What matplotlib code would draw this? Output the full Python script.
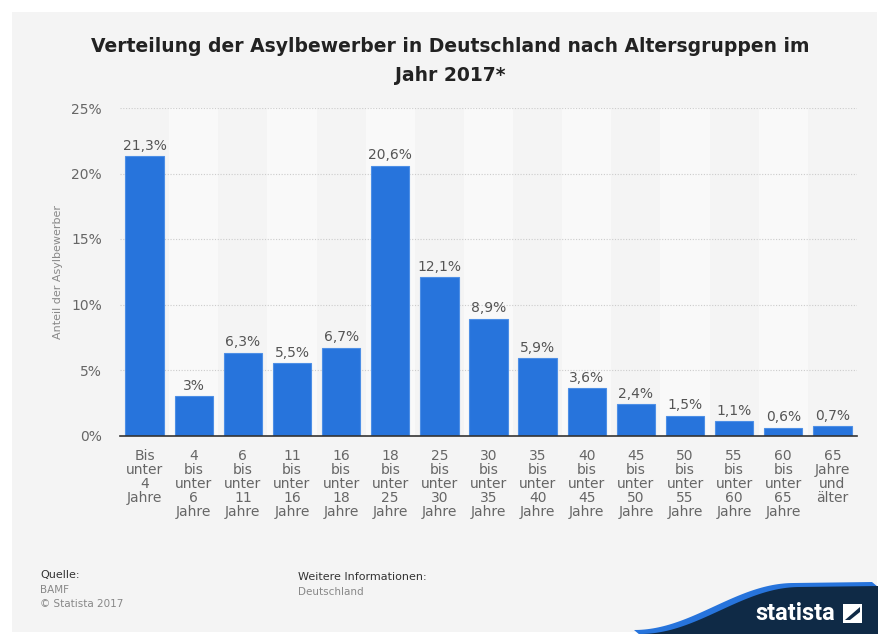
import matplotlib
matplotlib.use("Agg")
import matplotlib.pyplot as plt
import numpy as np
from matplotlib.patches import Rectangle, Polygon

categories = [
    "Bis\nunter\n4\nJahre", "4\nbis\nunter\n6\nJahre", "6\nbis\nunter\n11\nJahre",
    "11\nbis\nunter\n16\nJahre", "16\nbis\nunter\n18\nJahre", "18\nbis\nunter\n25\nJahre",
    "25\nbis\nunter\n30\nJahre", "30\nbis\nunter\n35\nJahre", "35\nbis\nunter\n40\nJahre",
    "40\nbis\nunter\n45\nJahre", "45\nbis\nunter\n50\nJahre", "50\nbis\nunter\n55\nJahre",
    "55\nbis\nunter\n60\nJahre", "60\nbis\nunter\n65\nJahre", "65\nJahre\nund\nälter",
]
values = [21.3, 3.0, 6.3, 5.5, 6.7, 20.6, 12.1, 8.9, 5.9, 3.6, 2.4, 1.5, 1.1, 0.6, 0.7]
value_labels = ["21,3%", "3%", "6,3%", "5,5%", "6,7%", "20,6%", "12,1%", "8,9%", "5,9%",
                "3,6%", "2,4%", "1,5%", "1,1%", "0,6%", "0,7%"]
yticks = [0, 5, 10, 15, 20, 25]
ytick_labels = ["0%", "5%", "10%", "15%", "20%", "25%"]

title = "Verteilung der Asylbewerber in Deutschland nach Altersgruppen im\nJahr 2017*"
ylabel = "Anteil der Asylbewerber"

W, H = 879, 634
fig = plt.figure(figsize=(W / 100, H / 100), dpi=100)
fig.patch.set_facecolor("white")

def fx(px):
    return px / W

def fy(py):
    return 1 - py / H

# gray panel
fig.patches.append(Rectangle((fx(12), fy(632)), fx(877) - fx(12), fy(12) - fy(632),
                             transform=fig.transFigure, facecolor="#f4f4f4",
                             edgecolor="none", zorder=-10))

ax = fig.add_axes([fx(120), fy(435.5), fx(857) - fx(120), fy(108) - fy(435.5)])
ax.set_facecolor("none")
ax.set_zorder(5)

x = np.arange(len(values))
# alternating column shading
for i in x:
    if i % 2 == 1:
        ax.axvspan(i - 0.5, i + 0.5, ymin=0, ymax=1, facecolor="#f9f9f9",
                   edgecolor="none", zorder=0)

ax.bar(x, values, width=0.78, color="#2774dc", edgecolor="#4d8fe6", linewidth=0.8, zorder=3)
for xi, v, lab in zip(x, values, value_labels):
    ax.annotate(lab, (xi, v), xytext=(0, 2.5), textcoords="offset points",
                ha="center", va="bottom", fontsize=10, color="#555555", zorder=4)

ax.set_xlim(-0.5, len(values) - 0.5)
ax.set_ylim(0, 25)
ax.set_yticks(yticks)
ax.set_yticklabels(ytick_labels, fontsize=10, color="#666666")
ax.set_xticks(x)
ax.set_xticklabels(categories, fontsize=10, color="#666666", linespacing=1.0, va="top")
ax.tick_params(axis="both", length=0)
ax.tick_params(axis="y", pad=13)
ax.tick_params(axis="x", pad=10)
for y in yticks[1:]:
    ax.axhline(y, color="#cccccc", linewidth=0.8, linestyle=(0, (1, 1.5)), zorder=1)
for s in ["left", "right", "top"]:
    ax.spines[s].set_visible(False)
ax.spines["bottom"].set_color("#333333")
ax.spines["bottom"].set_linewidth(1.2)
ax.spines["bottom"].set_zorder(5)

fig.text(fx(58), fy(272), ylabel, rotation=90, fontsize=8, color="#888888",
         ha="center", va="center")

fig.text(0.512, fy(61), title, ha="center", va="center", fontsize=13.5, fontweight="bold",
         color="#222222", linespacing=1.7)

# footer
fig.text(fx(40), fy(575), "Quelle:", fontsize=8, color="#333333", va="center")
fig.text(fx(40), fy(590), "BAMF", fontsize=7.5, color="#888888", va="center")
fig.text(fx(40), fy(604), "© Statista 2017", fontsize=7.5, color="#888888", va="center")
fig.text(fx(298), fy(577), "Weitere Informationen:", fontsize=8, color="#333333", va="center")
fig.text(fx(298), fy(592), "Deutschland", fontsize=7.5, color="#888888", va="center")

# logo
t = np.linspace(0, 1, 60)
xs = 640 + t * 160
ys = 634 - 47 * (0.5 - 0.5 * np.cos(np.pi * t))
edge_x = np.concatenate([xs, [878]])
edge_y = np.concatenate([ys, [586]])
blue = list(zip(fx(edge_x - 6), fy(edge_y - 4))) + list(zip(fx(edge_x[::-1]), fy(edge_y[::-1] + 1)))
fig.patches.append(Polygon(blue, closed=True, transform=fig.transFigure,
                           facecolor="#2774dc", edgecolor="none", zorder=1))
dark = list(zip(fx(edge_x), fy(edge_y))) + [(fx(878), fy(634)), (fx(640), fy(634))]
fig.patches.append(Polygon(dark, closed=True, transform=fig.transFigure,
                           facecolor="#0f2a46", edgecolor="none", zorder=2))
fig.text(fx(795), fy(613), "statista", fontsize=17, fontweight="bold", color="white",
         family="Roboto", ha="center", va="center", zorder=3)
fig.patches.append(Rectangle((fx(843), fy(623)), fx(19), fy(604) - fy(623),
                             transform=fig.transFigure, facecolor="white",
                             edgecolor="none", zorder=3))
fig.patches.append(Polygon([(fx(845), fy(620)), (fx(860), fy(607)), (fx(860), fy(612)),
                            (fx(850), fy(620))], closed=True, transform=fig.transFigure,
                           facecolor="#0f2a46", edgecolor="none", zorder=4))

fig.savefig("out.png", dpi=100, facecolor=fig.get_facecolor())
